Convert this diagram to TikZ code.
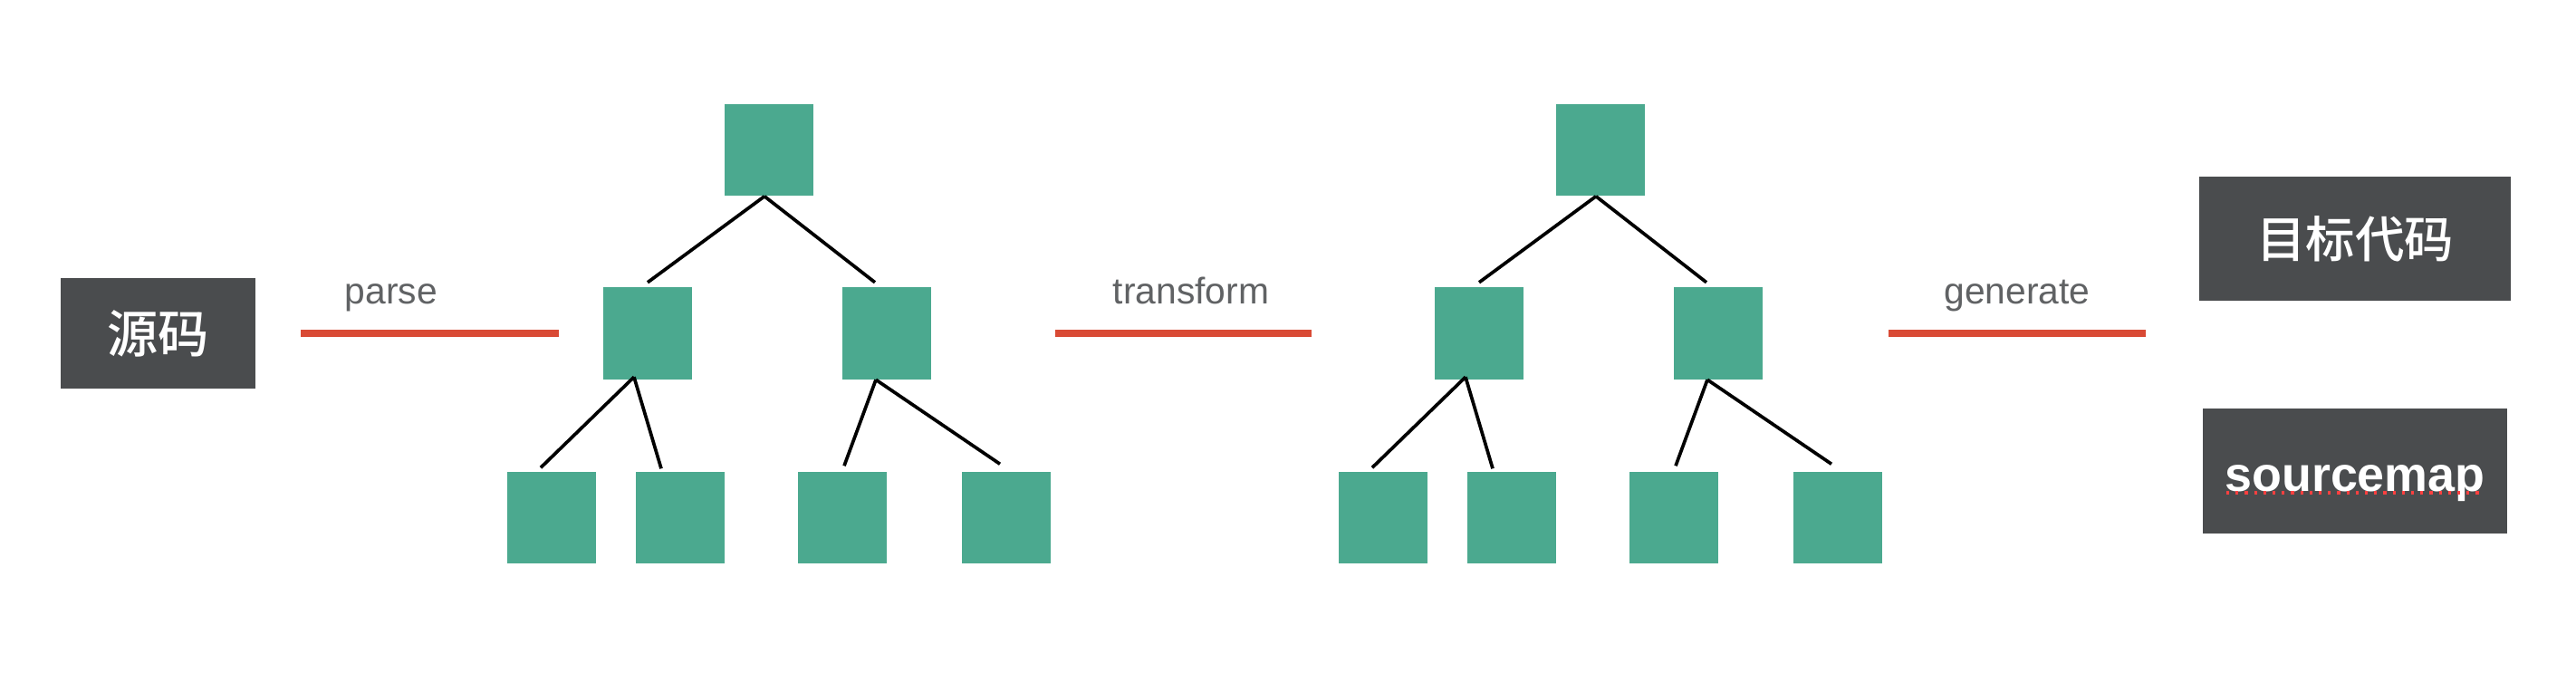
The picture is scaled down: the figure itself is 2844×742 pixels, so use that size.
\documentclass[tikz,border=0pt]{standalone}
\usepackage{fontspec}
\setmainfont{Liberation Sans}
\newfontfamily\cjk{Noto Sans CJK SC}[UprightFont={* Medium}]
\definecolor{treegreen}{HTML}{4BA98F}
\definecolor{darkbg}{HTML}{4A4C4E}
\definecolor{labelgray}{HTML}{606264}
\definecolor{redline}{HTML}{D8412B}
\tikzset{
  treebox/.style={fill=treegreen, draw=none, minimum width=0.98cm, minimum height=1.01cm, inner sep=0pt},
  darkbox/.style={fill=darkbg, draw=none, inner sep=0pt, text=white},
  edge/.style={draw=black, line width=1.05pt},
  steplabel/.style={text=labelgray, font=\fontsize{11.6}{14}\selectfont, anchor=base, inner sep=0pt},
  redstroke/.style={draw=redline, line width=2pt, opacity=0.95}
}
\newcommand\drawmytree[2]{%
  \node[treebox] (r#1) at ({849+#2},165.5) {};
  \node[treebox] (a#1) at ({715+#2},368) {};
  \node[treebox] (b#1) at ({979+#2},368) {};
  \node[treebox] (c#1) at ({609+#2},571.5) {};
  \node[treebox] (d#1) at ({751+#2},571.5) {};
  \node[treebox] (e#1) at ({930+#2},571.5) {};
  \node[treebox] (f#1) at ({1111+#2},571.5) {};
  \draw[edge] ([xshift=-0.05cm]r#1.south) -- ([yshift=0.05cm]a#1.north);
  \draw[edge] ([xshift=-0.05cm]r#1.south) -- ([xshift=-0.13cm,yshift=0.05cm]b#1.north);
  \draw[edge] ([xshift=-0.15cm,yshift=0.03cm]a#1.south) -- ([xshift=-0.12cm,yshift=0.04cm]c#1.north);
  \draw[edge] ([xshift=-0.15cm,yshift=0.03cm]a#1.south) -- ([xshift=-0.21cm,yshift=0.03cm]d#1.north);
  \draw[edge] ([xshift=-0.12cm]b#1.south) -- ([xshift=0.02cm,yshift=0.06cm]e#1.north);
  \draw[edge] ([xshift=-0.12cm]b#1.south) -- ([xshift=-0.07cm,yshift=0.08cm]f#1.north);
}
\begin{document}
\begin{tikzpicture}[x=0.01cm, y=-0.01cm]
  \useasboundingbox[fill=white] (0,0) rectangle (2844,742);

  % source box
  \node[darkbox, minimum width=2.15cm, minimum height=1.22cm,
        font=\cjk\fontsize{16}{18}\selectfont] (src) at (174.5,368) {源码};

  % step labels and red strokes
  \node[steplabel] (parse) at (432,335) {parse};
  \draw[redstroke] (332,368) -- (617,368);

  \node[steplabel] (transform) at (1315,335) {transform};
  \draw[redstroke] (1165,368) -- (1448,368);

  \node[steplabel] (generate) at (2227,335) {generate};
  \draw[redstroke] (2085,368) -- (2369,368);

  % trees
  \drawmytree{1}{0}
  \drawmytree{2}{918}

  % target boxes
  \node[darkbox, minimum width=3.44cm, minimum height=1.37cm,
        font=\cjk\fontsize{15.5}{18}\selectfont] (tgt) at (2600,263.5) {目标代码};
  \node[darkbox, minimum width=3.36cm, minimum height=1.38cm,
        text height=0.52cm, text depth=0.08cm,
        font=\bfseries\fontsize{15.3}{18}\selectfont] (smap) at (2600,520) {sourcemap};
  \draw[draw=red!75!white, line width=0.9pt, dotted] (2458,544) -- (2742,544);
\end{tikzpicture}
\end{document}
